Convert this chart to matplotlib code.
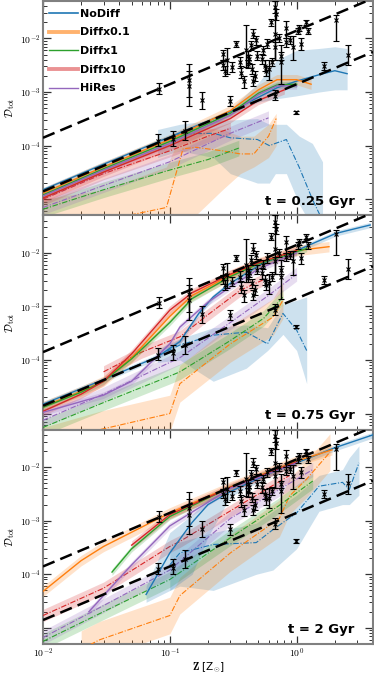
import numpy as np
import matplotlib
matplotlib.use("Agg")
import matplotlib.pyplot as plt
from matplotlib.lines import Line2D
from matplotlib.ticker import FixedLocator, LogLocator, NullFormatter, FixedFormatter

# ---------------- data ----------------
panel_labels = ["t = 0.25 Gyr", "t = 0.75 Gyr", "t = 2 Gyr"]
run_names = ["NoDiff", "Diffx0.1", "Diffx1", "Diffx10", "HiRes"]
run_colors = ["#1f77b4", "#ff7f0e", "#2ca02c", "#d62728", "#9467bd"]

# reference dashed relations
ref_z = [0.01, 4.0]
ref_upper = [1.4e-4, 5.6e-2]
ref_lower = [1.4e-5, 5.6e-3]

# observations: Z, D, lower end, upper end
obs_z = [0.082, 0.142, 0.142, 0.081, 0.106, 0.131, 0.18, 0.263, 0.271, 0.284,
         0.31, 0.30, 0.335, 0.356, 0.367, 0.385, 0.40, 0.41, 0.415, 0.42,
         0.44, 0.445, 0.45, 0.45, 0.48, 0.49, 0.53, 0.54, 0.56, 0.57,
         0.58, 0.63, 0.64, 0.67, 0.67, 0.68, 0.69, 0.73, 0.75, 0.75,
         0.83, 0.83, 0.88, 0.94, 1.02, 1.05, 1.09, 1.19, 1.23, 2.06,
         1.64, 2.54, 0.98, 0.68, 0.47, 0.60, 0.265]
obs_d = [1.15e-3, 1.7e-3, 1.3e-3, 1.23e-4, 1.33e-4, 1.9e-4, 7.1e-4, 5.2e-3, 2.5e-3, 3.9e-3,
         2.9e-3, 6.9e-4, 8e-3, 3.6e-3, 2.3e-3, 1.6e-3, 6e-3, 4.8e-3, 3.4e-3, 4.2e-3,
         7.4e-3, 2.7e-3, 1.6e-3, 1.2e-2, 9.2e-3, 4.8e-3, 4.2e-3, 6e-3, 3.1e-3, 2.5e-3,
         8e-3, 2e-2, 3.6e-3, 6.9e-3, 1.2e-2, 3.8e-2, 2.8e-2, 1e-2, 3.6e-3, 4.8e-3,
         1.6e-2, 8.5e-3, 9.2e-3, 6.9e-3, 1.4e-2, 1.6e-2, 8e-3, 2e-2, 1.4e-2, 2.2e-2,
         3.1e-3, 5e-3, 4.2e-4, 8.6e-4, 2.0e-3, 2.7e-3, 3.2e-3]
obs_lo = [9.3e-4, 5.6e-4, 8e-4, 1.0e-4, 1.0e-4, 1.3e-4, 4.9e-4, 3.9e-3, 2.0e-3, 2.2e-3,
          2.4e-3, 5.5e-4, 6.9e-3, 2.8e-3, 1.8e-3, 1.2e-3, 2.9e-3, 4.0e-3, 2.8e-3, 3.5e-3,
          6.0e-3, 2.2e-3, 1.3e-3, 1.0e-2, 7.5e-3, 4e-3, 3.3e-3, 5e-3, 2.5e-3, 2.0e-3,
          6.5e-3, 1.7e-2, 3.0e-3, 4.0e-3, 4e-3, 3e-2, 2.2e-2, 8.5e-3, 1.4e-3, 4.0e-3,
          1.0e-2, 7e-3, 7.8e-3, 3.9e-3, 1.2e-2, 1.4e-2, 6.2e-3, 1.8e-2, 1.2e-2, 8.9e-3,
          2.6e-3, 3.2e-3, 3.9e-4, 7e-4, 1.6e-3, 1.7e-3, 2.6e-3]
obs_hi = [1.5e-3, 3.4e-3, 2.5e-3, 1.65e-4, 1.9e-4, 2.85e-4, 1.0e-3, 6.2e-3, 3.1e-3, 6.5e-3,
          3.6e-3, 8.5e-4, 9e-3, 4.5e-3, 3.0e-3, 2.0e-3, 1.8e-2, 5.8e-3, 4.0e-3, 5e-3,
          9.0e-3, 3.3e-3, 2.0e-3, 1.5e-2, 1.1e-2, 5.8e-3, 5.2e-3, 7.2e-3, 3.9e-3, 3.1e-3,
          9.8e-3, 2.3e-2, 4.3e-3, 8.5e-3, 5e-2, 5e-2, 3.5e-2, 1.2e-2, 7.4e-3, 5.6e-3,
          2.1e-2, 1e-2, 1.1e-2, 1.1e-2, 1.6e-2, 1.8e-2, 1.0e-2, 2.2e-2, 1.6e-2, 2.7e-2,
          3.7e-3, 7.6e-3, 4.5e-4, 1.1e-3, 2.5e-3, 4e-3, 3.9e-3]

# ---- panel 1 (t = 0.25 Gyr) ----
p1_nodiff_z = [0.01, 0.03, 0.1, 0.3, 0.5, 0.7, 1.0, 1.5, 2.0, 2.5]
p1_nodiff_d = [1.5e-5, 4.5e-5, 1.45e-4, 4.3e-4, 8e-4, 1.2e-3, 1.6e-3, 2.1e-3, 2.5e-3, 2.2e-3]
p1_nodiff_lo = [1.35e-5, 4e-5, 1.3e-4, 3.8e-4, 6.5e-4, 7.5e-4, 8.5e-4, 1e-3, 1.1e-3, 1.1e-3]
p1_nodiff_hi = [1.65e-5, 5e-5, 1.6e-4, 4.8e-4, 1.5e-3, 4e-3, 6e-3, 6.5e-3, 7e-3, 6.5e-3]
p1_diff01_z = [0.01, 0.03, 0.1, 0.3, 0.5, 0.7, 1.0, 1.3]
p1_diff01_d = [1.3e-5, 4e-5, 1.3e-4, 4.5e-4, 1.1e-3, 1.7e-3, 1.7e-3, 1.4e-3]
p1_diff1_z = [0.01, 0.03, 0.1, 0.3, 0.5, 0.7, 1.0]
p1_diff1_d = [1.2e-5, 3.7e-5, 1.2e-4, 4e-4, 9.5e-4, 1.35e-3, 1.4e-3]
p1_diff10_z = [0.01, 0.03, 0.1, 0.3, 0.5, 0.8]
p1_diff10_d = [1.05e-5, 3.2e-5, 1.0e-4, 3.2e-4, 7e-4, 1.1e-3]
p1_hires_z = [0.01, 0.03, 0.1, 0.3, 0.5, 0.7, 1.0]
p1_hires_d = [1.15e-5, 3.5e-5, 1.1e-4, 3.7e-4, 9e-4, 1.3e-3, 1.3e-3]

p1_nodiff_dd_z = [0.08, 0.12, 0.22, 0.3, 0.49, 0.61, 0.68, 0.83, 1.05, 1.33, 1.6]
p1_nodiff_dd_d = [1.2e-4, 1.65e-4, 1.7e-4, 1.4e-4, 1.3e-4, 1.0e-4, 1.1e-4, 1.3e-4, 3.9e-5, 1e-5, 4e-6]
p1_nodiff_dd_lo = [6e-5, 8e-5, 6e-5, 3e-5, 2e-5, 2e-5, 3e-5, 3e-5, 8e-6, 3e-6, 2e-6]
p1_nodiff_dd_hi = [2e-4, 2.5e-4, 3e-4, 3e-4, 3.2e-4, 2.5e-4, 2.5e-4, 2.5e-4, 1.5e-4, 1.1e-4, 5e-5]
p1_diff01_dd_z = [0.01, 0.03, 0.094, 0.127, 0.16, 0.26, 0.36, 0.46, 0.6, 0.69]
p1_diff01_dd_d = [2e-6, 4e-6, 7e-6, 8.7e-5, 9.3e-5, 8e-5, 7e-5, 7e-5, 1.5e-4, 3.2e-4]
p1_diff01_dd_lo = [1e-6, 1e-6, 1e-6, 3e-6, 5e-6, 1.5e-5, 3e-5, 4e-5, 6e-5, 1e-4]
p1_diff01_dd_hi = [1e-5, 1.5e-5, 4e-5, 2e-4, 2.2e-4, 2e-4, 1.5e-4, 1.5e-4, 2.5e-4, 4e-4]
p1_diff1_dd_z = [0.01, 0.03, 0.1, 0.2, 0.35]
p1_diff1_dd_d = [6.5e-6, 1.5e-5, 3.5e-5, 5.5e-5, 9e-5]
p1_diff10_dd_z = [0.01, 0.03, 0.1, 0.2, 0.3]
p1_diff10_dd_d = [1.0e-5, 3e-5, 8e-5, 1.5e-4, 2.1e-4]
p1_hires_dd_z = [0.01, 0.03, 0.1, 0.3, 0.6]
p1_hires_dd_d = [7e-6, 1.8e-5, 5e-5, 1.7e-4, 3.3e-4]

# ---- panel 2 (t = 0.75 Gyr) ----
p2_nodiff_z = [0.01, 0.03, 0.08, 0.12, 0.17, 0.22, 0.3, 0.54, 1.0, 2.04, 3.8]
p2_nodiff_d = [1.5e-5, 4.3e-5, 1.15e-4, 2.2e-4, 7.5e-4, 1.5e-3, 2.7e-3, 6.4e-3, 1.1e-2, 2.3e-2, 3.3e-2]
p2_diff01_z = [0.01, 0.02, 0.03, 0.05, 0.1, 0.15, 0.3, 0.5, 1.0, 1.8]
p2_diff01_d = [1.35e-5, 2.6e-5, 4e-5, 1.1e-4, 6.5e-4, 1.6e-3, 3.8e-3, 6.5e-3, 1.1e-2, 1.3e-2]
p2_diff1_z = [0.01, 0.02, 0.03, 0.05, 0.1, 0.15, 0.3, 0.5, 1.0, 1.2]
p2_diff1_d = [1.3e-5, 2.5e-5, 4e-5, 1.05e-4, 5e-4, 1.4e-3, 3.6e-3, 6.2e-3, 1.05e-2, 1.2e-2]
p2_diff10_z = [0.01, 0.02, 0.03, 0.05, 0.1, 0.15, 0.3, 0.5, 1.0]
p2_diff10_d = [1.1e-5, 2.3e-5, 4e-5, 1.3e-4, 8.5e-4, 1.8e-3, 4e-3, 6.5e-3, 1.1e-2]
p2_hires_z = [0.01, 0.03, 0.05, 0.1, 0.12, 0.2, 0.3, 0.5, 1.0]
p2_hires_d = [1.05e-5, 2.2e-5, 4e-5, 2e-4, 4.1e-4, 1.2e-3, 2.3e-3, 5e-3, 1e-2]

p2_nodiff_dd_z = [0.08, 0.12, 0.22, 0.4, 0.59, 0.78, 1.0, 1.2]
p2_nodiff_dd_d = [1.2e-4, 1.9e-4, 2.9e-4, 3.3e-4, 2e-4, 7.4e-4, 3.6e-4, 1.5e-4]
p2_nodiff_dd_lo = [9e-5, 1e-4, 4e-5, 7e-5, 1.5e-4, 3e-4, 1.5e-4, 3.6e-5]
p2_nodiff_dd_hi = [1.6e-4, 2.5e-4, 4e-4, 4.5e-4, 4e-4, 1.1e-3, 1.3e-3, 1.5e-3]
p2_diff01_dd_z = [0.01, 0.028, 0.1, 0.12, 0.3, 0.65, 0.78]
p2_diff01_dd_d = [2.5e-6, 5e-6, 1e-5, 3.6e-5, 2e-4, 6.3e-4, 1.3e-3]
p2_diff1_dd_z = [0.01, 0.03, 0.1, 0.12, 0.3, 0.55, 0.78]
p2_diff1_dd_d = [5.5e-6, 1.6e-5, 5e-5, 6e-5, 2.3e-4, 6e-4, 1.5e-3]
p2_diff10_dd_z = [0.03, 0.06, 0.12, 0.2, 0.36, 0.54]
p2_diff10_dd_d = [6e-5, 1.4e-4, 2.7e-4, 7e-4, 2e-3, 3.1e-3]
p2_hires_dd_z = [0.01, 0.03, 0.1, 0.12, 0.3, 0.6, 1.0]
p2_hires_dd_d = [7.5e-6, 2.3e-5, 9e-5, 1.1e-4, 5e-4, 1.6e-3, 4e-3]

# ---- panel 3 (t = 2 Gyr) ----
p3_nodiff_z = [0.065, 0.1, 0.15, 0.2, 0.3, 0.6, 1.0, 2.0, 4.0]
p3_nodiff_d = [4.2e-5, 2.5e-4, 9.3e-4, 2e-3, 3.5e-3, 7.5e-3, 1.2e-2, 2.3e-2, 4e-2]
p3_nodiff_lo = [3e-5, 5e-5, 1e-4, 5e-4, 2.8e-3, 6.5e-3, 1.05e-2, 2e-2, 3.5e-2]
p3_nodiff_hi = [6e-5, 6e-4, 1.3e-3, 2.5e-3, 4e-3, 8.5e-3, 1.35e-2, 2.6e-2, 4.5e-2]
p3_diff01_z = [0.01, 0.02, 0.03, 0.1, 0.3, 1.0, 1.9]
p3_diff01_d = [4.8e-5, 1.8e-4, 3.3e-4, 1.4e-3, 4.3e-3, 1.3e-2, 2.1e-2]
p3_diff1_z = [0.035, 0.05, 0.1, 0.3, 1.0]
p3_diff1_d = [1.1e-4, 3e-4, 1.2e-3, 4.2e-3, 1.25e-2]
p3_diff10_z = [0.05, 0.1, 0.3, 1.0]
p3_diff10_d = [3.5e-4, 1.3e-3, 4.2e-3, 1.25e-2]
p3_hires_z = [0.023, 0.03, 0.05, 0.1, 0.3, 1.0]
p3_hires_d = [2e-5, 4e-5, 1.5e-4, 8e-4, 4e-3, 1.2e-2]

p3_nodiff_dd_z = [0.1, 0.12, 0.22, 0.48, 0.65, 1.0, 1.5, 2.3, 2.6, 3.1]
p3_nodiff_dd_d = [1.5e-4, 2.5e-4, 3.6e-4, 3.9e-4, 6.8e-4, 1.4e-3, 4.4e-3, 5.2e-3, 3.8e-3, 1.2e-2]
p3_nodiff_dd_lo = [5e-5, 6e-5, 5e-5, 1e-4, 1.2e-4, 3e-4, 1.5e-3, 2e-3, 2e-3, 3e-3]
p3_nodiff_dd_hi = [3e-4, 4e-4, 6e-4, 9e-4, 1.5e-3, 3e-3, 7e-3, 9e-3, 1.5e-2, 2.5e-2]
p3_diff01_dd_z = [0.02, 0.028, 0.1, 0.12, 0.3, 0.73, 0.88, 1.2, 1.83]
p3_diff01_dd_d = [4e-6, 6e-6, 1.7e-5, 4e-5, 2.5e-4, 1.1e-3, 2.9e-3, 6e-3, 1.9e-2]
p3_diff1_dd_z = [0.01, 0.03, 0.1, 0.3, 0.7, 1.34]
p3_diff1_dd_d = [5.6e-6, 2e-5, 8e-5, 4.8e-4, 1.8e-3, 5.5e-3]
p3_diff10_dd_z = [0.01, 0.03, 0.1, 0.12, 0.4, 0.88]
p3_diff10_dd_d = [1.7e-5, 5.5e-5, 3.3e-4, 4.1e-4, 2.3e-3, 7e-3]
p3_hires_dd_z = [0.01, 0.03, 0.1, 0.3, 1.34]
p3_hires_dd_d = [6.6e-6, 2.6e-5, 1.2e-4, 1.1e-3, 9e-3]

# band half-widths (multiplicative factors) for runs without explicit bands
band_solid = [1.12, 1.25, 1.15, 1.2, 1.15]
band_dd = [1.6, 2.2, 1.4, 1.3, 1.35]

panels = [
    dict(solid=[(p1_nodiff_z, p1_nodiff_d, p1_nodiff_lo, p1_nodiff_hi),
                (p1_diff01_z, p1_diff01_d, None, None),
                (p1_diff1_z, p1_diff1_d, None, None),
                (p1_diff10_z, p1_diff10_d, None, None),
                (p1_hires_z, p1_hires_d, None, None)],
         dd=[(p1_nodiff_dd_z, p1_nodiff_dd_d, p1_nodiff_dd_lo, p1_nodiff_dd_hi),
             (p1_diff01_dd_z, p1_diff01_dd_d, p1_diff01_dd_lo, p1_diff01_dd_hi),
             (p1_diff1_dd_z, p1_diff1_dd_d, None, None),
             (p1_diff10_dd_z, p1_diff10_dd_d, None, None),
             (p1_hires_dd_z, p1_hires_dd_d, None, None)]),
    dict(solid=[(p2_nodiff_z, p2_nodiff_d, None, None),
                (p2_diff01_z, p2_diff01_d, None, None),
                (p2_diff1_z, p2_diff1_d, None, None),
                (p2_diff10_z, p2_diff10_d, None, None),
                (p2_hires_z, p2_hires_d, None, None)],
         dd=[(p2_nodiff_dd_z, p2_nodiff_dd_d, p2_nodiff_dd_lo, p2_nodiff_dd_hi),
             (p2_diff01_dd_z, p2_diff01_dd_d, None, None),
             (p2_diff1_dd_z, p2_diff1_dd_d, None, None),
             (p2_diff10_dd_z, p2_diff10_dd_d, None, None),
             (p2_hires_dd_z, p2_hires_dd_d, None, None)]),
    dict(solid=[(p3_nodiff_z, p3_nodiff_d, p3_nodiff_lo, p3_nodiff_hi),
                (p3_diff01_z, p3_diff01_d, None, None),
                (p3_diff1_z, p3_diff1_d, None, None),
                (p3_diff10_z, p3_diff10_d, None, None),
                (p3_hires_z, p3_hires_d, None, None)],
         dd=[(p3_nodiff_dd_z, p3_nodiff_dd_d, p3_nodiff_dd_lo, p3_nodiff_dd_hi),
             (p3_diff01_dd_z, p3_diff01_dd_d, None, None),
             (p3_diff1_dd_z, p3_diff1_dd_d, None, None),
             (p3_diff10_dd_z, p3_diff10_dd_d, None, None),
             (p3_hires_dd_z, p3_hires_dd_d, None, None)]),
]

# ---------------- plotting ----------------
plt.rcParams['font.family'] = ['DejaVu Sans']
plt.rcParams['mathtext.fontset'] = 'cm'

fig = plt.figure(figsize=(3.74, 6.74), dpi=100)
bottom = 1 - 644 / 674
top = 1 - 1 / 674
left = 43 / 374
right = 373 / 374
h = (top - bottom) / 3
axes = []
for i in range(3):
    ax = fig.add_axes([left, top - (i + 1) * h, right - left, h])
    axes.append(ax)

spine_col = "#808080"


def draw_curve(ax, z, d, lo, hi, fac, color, ls, lw, zorder):
    z = np.asarray(z)
    d = np.asarray(d)
    if lo is None:
        lo = d / fac
        hi = d * fac
    ax.fill_between(z, lo, hi, color=color, alpha=0.22, lw=0, zorder=zorder - 1)
    ax.plot(z, d, color=color, ls=ls, lw=lw, zorder=zorder)


for i, ax in enumerate(axes):
    ax.set_xscale('log')
    ax.set_yscale('log')
    ax.set_xlim(0.01, 4.0)
    ax.set_ylim(5e-6, 5e-2)

    p = panels[i]
    for k in range(5):
        z, d, lo, hi = p['dd'][k]
        draw_curve(ax, z, d, lo, hi, band_dd[k], run_colors[k], (0, (5, 1.5, 1, 1.5)), 0.8, 3)
    for k in range(5):
        z, d, lo, hi = p['solid'][k]
        draw_curve(ax, z, d, lo, hi, band_solid[k], run_colors[k], '-', 1.0, 5)

    ax.plot(ref_z, ref_upper, color='k', ls=(0, (5, 2.5)), lw=1.8, zorder=6)
    ax.plot(ref_z, ref_lower, color='k', ls=(0, (5, 2.5)), lw=1.8, zorder=6)

    od = np.asarray(obs_d)
    yerr = [od - np.asarray(obs_lo), np.asarray(obs_hi) - od]
    ax.errorbar(obs_z, obs_d, yerr=yerr, fmt='x', color='k', ms=2.5, mew=0.8,
                elinewidth=1.0, capsize=2, capthick=0.8, zorder=7)

    ax.text(0.945, 0.035, panel_labels[i], transform=ax.transAxes, ha='right',
            va='bottom', fontsize=9.5, fontweight='bold', zorder=10)

    # ticks
    ax.yaxis.set_major_locator(FixedLocator([1e-5, 1e-4, 1e-3, 1e-2]))
    ax.yaxis.set_major_formatter(FixedFormatter(['', r'$10^{-4}$', r'$10^{-3}$', r'$10^{-2}$']))
    ax.yaxis.set_minor_locator(LogLocator(base=10, subs=np.arange(2, 10), numticks=20))
    ax.yaxis.set_minor_formatter(NullFormatter())
    ax.xaxis.set_major_locator(FixedLocator([0.01, 0.1, 1.0]))
    ax.xaxis.set_minor_locator(LogLocator(base=10, subs=np.arange(2, 10), numticks=20))
    ax.xaxis.set_minor_formatter(NullFormatter())
    if i < 2:
        ax.xaxis.set_major_formatter(NullFormatter())
    else:
        ax.xaxis.set_major_formatter(FixedFormatter([r'$10^{-2}$', r'$10^{-1}$', r'$10^{0}$']))
    ax.tick_params(which='both', direction='in', top=True, right=True, labelsize=7,
                   color='#333333', pad=2)
    ax.tick_params(which='major', length=6, width=0.9)
    ax.tick_params(which='minor', length=3, width=0.7)
    for s in ax.spines.values():
        s.set_color(spine_col)
        s.set_linewidth(1.5)
    ax.set_ylabel(r'$\mathcal{D}_{\rm tot}$', fontsize=8, labelpad=2)

axes[2].set_xlabel(r'$\mathbf{Z}$ [Z$_{\odot}$]', fontsize=7.5, labelpad=0)

handles = [Line2D([], [], color=run_colors[0], lw=1.2),
           Line2D([], [], color=run_colors[1], lw=2.8, alpha=0.6),
           Line2D([], [], color=run_colors[2], lw=1.0),
           Line2D([], [], color=run_colors[3], lw=2.8, alpha=0.5),
           Line2D([], [], color=run_colors[4], lw=1.0)]
leg = axes[0].legend(handles, run_names, loc='upper left', frameon=False,
                     prop=dict(weight='bold', size=8), handlelength=2.6,
                     handletextpad=0.15, labelspacing=0.78, borderaxespad=0.3,
                     bbox_to_anchor=(-0.005, 1.0))

fig.savefig('out.png', dpi=100)
